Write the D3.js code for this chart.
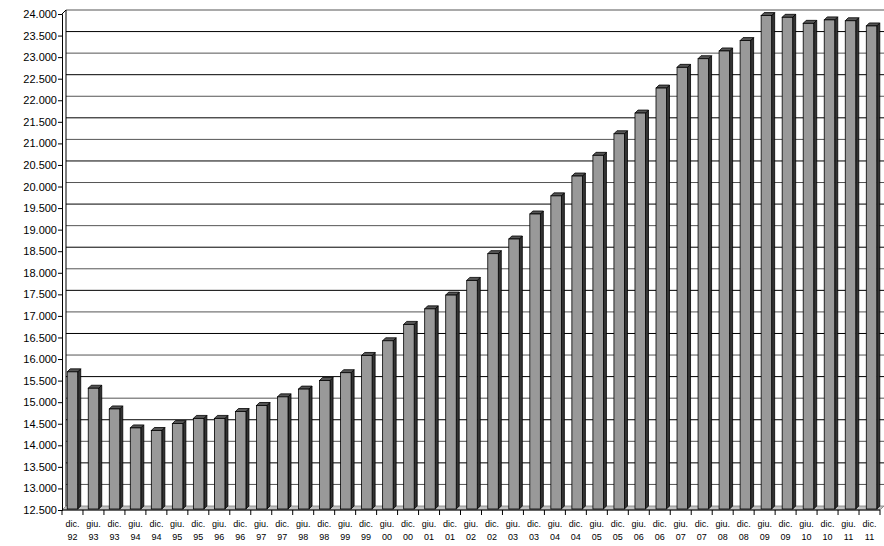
<!DOCTYPE html>
<html><head><meta charset="utf-8">
<script src="https://cdn.jsdelivr.net/npm/d3@7"></script>
<style>body{margin:0;background:#fff}</style>
</head><body>
<svg id="chart" width="884" height="546"></svg>
<script>
// categories: semester labels, two lines each
const months = ["dic.","giu.","dic.","giu.","dic.","giu.","dic.","giu.","dic.","giu.","dic.","giu.","dic.","giu.","dic.","giu.","dic.","giu.","dic.","giu.","dic.","giu.","dic.","giu.","dic.","giu.","dic.","giu.","dic.","giu.","dic.","giu.","dic.","giu.","dic.","giu.","dic.","giu.","dic."];
const years = ["92","93","93","94","94","95","95","96","96","97","97","98","98","99","99","00","00","01","01","02","02","03","03","04","04","05","05","06","06","07","07","08","08","09","09","10","10","11","11"];
const values = [15680,15300,14820,14380,14320,14480,14600,14600,14760,14900,15100,15280,15480,15660,16060,16400,16780,17140,17460,17800,18420,18760,19340,19760,20220,20700,21200,21680,22260,22740,22940,23120,23360,23940,23900,23760,23840,23820,23700];
const yTicks = d3.range(12500, 24001, 500);

const svg = d3.select("#chart");
const pLeft = 62, pRight = 880, pBottom = 510, pTop = 14;
const dx = 4, dy = -4; // depth offset for back wall
const fmt = v => d3.format(".3f")(v/1000);

const y = d3.scaleLinear().domain([12500, 24000]).range([pBottom, pTop]);
const x = d3.scaleBand().domain(d3.range(values.length)).range([pLeft, pRight]).paddingInner(0.5).paddingOuter(0.2);
const xs = d3.scaleBand().domain(d3.range(values.length)).range([pLeft, pRight]);

// floor
svg.append("polygon")
  .attr("points", `${pLeft},${pBottom} ${pRight},${pBottom} ${pRight+dx},${pBottom+dy} ${pLeft+dx},${pBottom+dy}`)
  .attr("fill", "#c0c0c0").attr("stroke", "#808080").attr("stroke-width", 0.8);

// back gridlines
svg.append("g").selectAll("line").data(yTicks.slice(1)).join("line")
  .attr("x1", pLeft+dx).attr("x2", 884).attr("y1", d => y(d)+dy).attr("y2", d => y(d)+dy)
  .attr("stroke", (d,i) => i%2 ? "#000" : "#555").attr("stroke-width", 1);
svg.append("line").attr("x1", pLeft+dx).attr("x2", pLeft+dx).attr("y1", pBottom+dy).attr("y2", pTop+dy).attr("stroke", "#000");
svg.append("line").attr("x1", pLeft).attr("x2", pLeft+dx).attr("y1", pTop).attr("y2", pTop+dy).attr("stroke", "#000");

// bars
const g = svg.append("g");
values.forEach((v, i) => {
  const x0 = x(i)+1, w = x.bandwidth(), yt = y(v) - 1, yb = pBottom - 1, d = 3;
  g.append("polygon").attr("points", `${x0+w},${yt} ${x0+w+d},${yt-d} ${x0+w+d},${yb-d} ${x0+w},${yb}`)
    .attr("fill", "#333").attr("stroke", "#000").attr("stroke-width", 0.8);
  g.append("polygon").attr("points", `${x0},${yt} ${x0+d},${yt-d} ${x0+w+d},${yt-d} ${x0+w},${yt}`)
    .attr("fill", "#555").attr("stroke", "#000").attr("stroke-width", 0.8);
  g.append("rect").attr("x", x0).attr("y", yt).attr("width", w).attr("height", yb-yt)
    .attr("fill", "#999").attr("stroke", "#000").attr("stroke-width", 0.8);
});

// y axis
const yAxis = svg.append("g").attr("transform", `translate(${pLeft},0)`)
  .call(d3.axisLeft(y).tickValues(yTicks).tickSize(4).tickFormat(fmt));
yAxis.select(".domain").attr("stroke", "#000");
yAxis.selectAll("text").attr("font-family", "Liberation Sans, Arial, sans-serif").attr("font-size", 11).attr("fill", "#000").attr("dx", 2);

// x axis
svg.append("line").attr("x1", pLeft).attr("x2", pRight).attr("y1", pBottom).attr("y2", pBottom).attr("stroke", "#000");
svg.append("g").selectAll("line").data(d3.range(values.length+1)).join("line")
  .attr("x1", i => pLeft + i*xs.step()).attr("x2", i => pLeft + i*xs.step())
  .attr("y1", pBottom).attr("y2", pBottom+5).attr("stroke", "#000");
const lab = svg.append("g").selectAll("text").data(d3.range(values.length)).join("text")
  .attr("font-family", "Liberation Sans, Arial, sans-serif").attr("font-size", 9).attr("text-anchor", "middle")
  .attr("x", i => xs(i) + xs.bandwidth()/2);
lab.append("tspan").attr("y", 527).text(i => months[i]);
lab.append("tspan").attr("x", i => xs(i) + xs.bandwidth()/2).attr("y", 540).text(i => years[i]);
</script>
</body></html>
